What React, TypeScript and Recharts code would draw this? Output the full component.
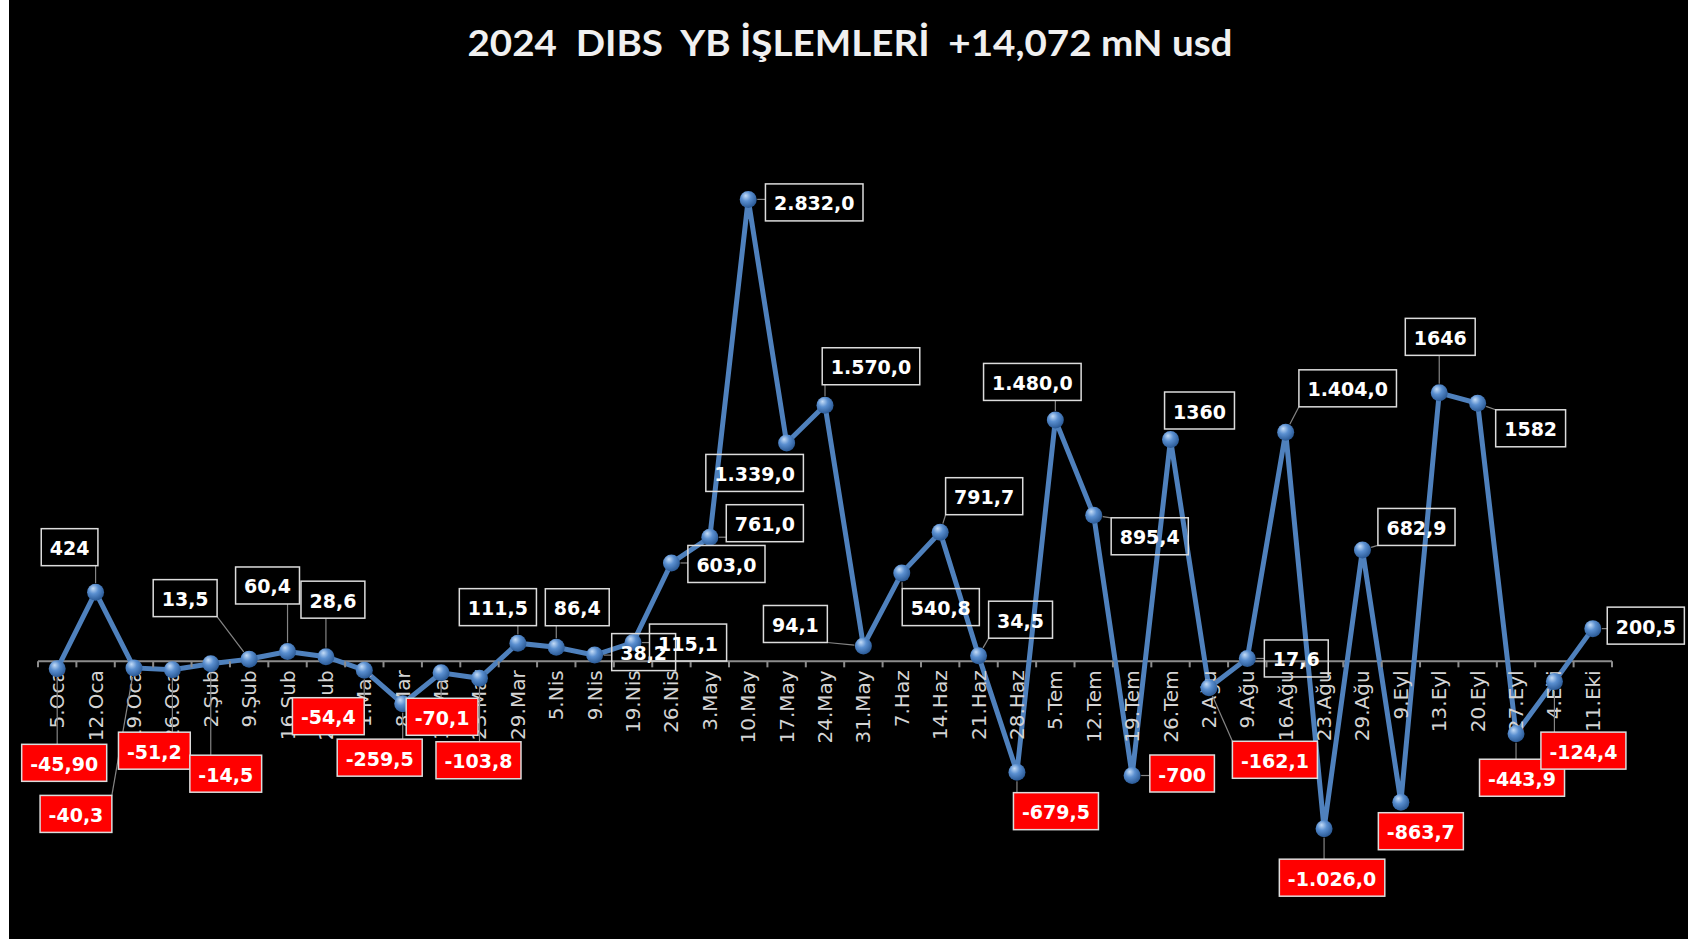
import { LabelList, Line, LineChart, ReferenceDot, ReferenceLine, XAxis, YAxis } from "recharts";

const weeks = [
  "5.Oca", "12.Oca", "19.Oca", "26.Oca", "2.Şub", "9.Şub", "16.Şub", "23.Şub",
  "1.Mar", "8.Mar", "15.Mar", "23.Mar", "29.Mar", "5.Nis", "9.Nis", "19.Nis",
  "26.Nis", "3.May", "10.May", "17.May", "24.May", "31.May", "7.Haz", "14.Haz",
  "21.Haz", "28.Haz", "5.Tem", "12.Tem", "19.Tem", "26.Tem", "2.Ağu", "9.Ağu",
  "16.Ağu", "23.Ağu", "29.Ağu", "9.Eyl", "13.Eyl", "20.Eyl", "27.Eyl", "4.Eki",
  "11.Eki",
];

// weekly foreign flows, mn usd
const flows = [
  -45.9, 424, -40.3, -51.2, -14.5, 13.5, 60.4, 28.6,
  -54.4, -259.5, -70.1, -103.8, 111.5, 86.4, 38.2, 115.1,
  603, 761, 2832, 1339, 1570, 94.1, 540.8, 791.7,
  34.5, -679.5, 1480, 895.4, -700, 1360, -162.1, 17.6,
  1404, -1026, 682.9, -863.7, 1646, 1582, -443.9, -124.4,
  200.5,
];

// label texts as shown on the sheet (mixed formats)
const flowLabels = [
  "-45,90", "424", "-40,3", "-51,2", "-14,5", "13,5", "60,4", "28,6",
  "-54,4", "-259,5", "-70,1", "-103,8", "111,5", "86,4", "38,2", "115,1",
  "603,0", "761,0", "2.832,0", "1.339,0", "1.570,0", "94,1", "540,8", "791,7",
  "34,5", "-679,5", "1.480,0", "895,4", "-700", "1360", "-162,1", "17,6",
  "1.404,0", "-1.026,0", "682,9", "-863,7", "1646", "1582", "-443,9", "-124,4",
  "200,5",
];

// hand-placed label boxes: offset of box centre from its point (px)
const labelOffsets: [number, number][] = [
  [7, 94], [-26, -45], [-58, 146], [-18, 81], [15, 110], [-64, -61], [-20, -66], [7, -57],
  [-36, 46], [-23, 54], [1, 44], [-1, 82], [-20, -36], [21, -40], [49, -3], [55, 0],
  [55, 1], [55, -14], [66, 3], [-32, 30], [46, -39], [-68, -22], [39, 34], [44, -36],
  [42, -36], [39, 39], [-23, -38], [56, 21], [50, -2], [29, -29], [66, 72], [49, 0],
  [62, -44], [8, 49], [54, -23], [20, 29], [1, -56], [53, 25], [6, 44], [29, 69],
  [53, -3],
];

const data = weeks.map((week, i) => ({ week, flow: flows[i] }));

const W = 1679;
const H = 939;
const margin = { top: 172, right: 76, bottom: 33, left: 29 };
const HALF_BAND = (W - margin.left - margin.right) / weeks.length / 2;

const charW: Record<string, number> = { ".": 0.38, ",": 0.38, "-": 0.415 };
function textWidth(s: string, size: number) {
  let w = 0;
  for (const c of s) w += charW[c] ?? 0.696;
  return w * size;
}

function Ball({ cx, cy, index }: any) {
  if (cx == null || cy == null) return null;
  return <circle key={`b${index}`} cx={cx} cy={cy} r={8.5} fill="url(#ball)" />;
}

function WeekTick(props: any) {
  const { cx, cy, label, last } = props;
  return (
    <g>
      <line x1={cx - HALF_BAND} x2={cx - HALF_BAND} y1={cy} y2={cy + 6} stroke="#8c8c8c" strokeWidth={2} />
      {last && <line x1={cx + HALF_BAND} x2={cx + HALF_BAND} y1={cy} y2={cy + 6} stroke="#8c8c8c" strokeWidth={2} />}
      <text
        transform={`translate(${cx},${cy + 9}) rotate(-90)`}
        textAnchor="end"
        dominantBaseline="central"
        fill="#d4d4d4"
        fontSize={20}
        fontFamily="DejaVu Sans"
      >
        {label}
      </text>
    </g>
  );
}

function FlowLabel(props: any) {
  const { x, y, index } = props;
  if (x == null || y == null) return null;
  const text = flowLabels[index];
  const [dx, dy] = labelOffsets[index];
  const neg = flows[index] < 0;
  const w = textWidth(text, 19) + 17;
  const h = 37;
  const bx = x + dx;
  const by = y + dy;
  const left = bx - w / 2;
  const top = by - h / 2;
  const px = Math.max(left, Math.min(x, left + w));
  const py = Math.max(top, Math.min(y, top + h));
  const dist = Math.hypot(px - x, py - y);
  return (
    <g>
      {dist > 12 && (
        <line
          x1={x + ((px - x) / dist) * 9}
          y1={y + ((py - y) / dist) * 9}
          x2={px}
          y2={py}
          stroke="#858585"
          strokeWidth={1.2}
        />
      )}
      <rect x={left} y={top} width={w} height={h} fill={neg ? "#ff0000" : "none"} stroke="#dcdcdc" strokeWidth={1.5} />
      <text
        x={bx}
        y={by + 1}
        textAnchor="middle"
        dominantBaseline="central"
        fill="#fff"
        fontWeight="bold"
        fontSize={19}
        fontFamily="DejaVu Sans"
      >
        {text}
      </text>
    </g>
  );
}

export default function App() {
  return (
    <div style={{ position: "absolute", left: 0, top: 0, width: 1688, height: 939, background: "#fff" }}>
      <div style={{ position: "absolute", left: 9, top: 0, width: W, height: H, background: "#000" }}>
        <LineChart width={W} height={H} data={data} margin={margin}>
          <defs>
            <radialGradient id="ball" cx="40%" cy="35%" r="65%" fx="35%" fy="28%">
              <stop offset="0%" stopColor="#c4dcf7" />
              <stop offset="45%" stopColor="#5a8fd0" />
              <stop offset="100%" stopColor="#2b5a96" />
            </radialGradient>
          </defs>
          <XAxis dataKey="week" hide padding={{ left: HALF_BAND, right: HALF_BAND }} />
          <YAxis hide domain={[-1500, 3000]} />
          <ReferenceLine y={0} stroke="#8c8c8c" strokeWidth={2} />
          {weeks.map((wk, i) => (
            <ReferenceDot
              key={wk}
              x={wk}
              y={0}
              r={0}
              shape={(p: any) => <WeekTick {...p} label={wk} last={i === weeks.length - 1} />}
            />
          ))}
          <Line
            type="linear"
            dataKey="flow"
            stroke="#4f81bd"
            strokeWidth={5}
            dot={Ball}
            activeDot={false}
            isAnimationActive={false}
          >
            <LabelList dataKey="flow" content={FlowLabel} />
          </Line>
        </LineChart>
        <svg width={W} height={90} style={{ position: "absolute", left: 0, top: 0 }}>
          <text
            x={841}
            y={41}
            textAnchor="middle"
            dominantBaseline="central"
            fill="#f0f0f0"
            fontFamily="Lato"
            fontWeight="bold"
            fontSize={37}
            textLength={765}
            lengthAdjust="spacingAndGlyphs"
            style={{ whiteSpace: "pre" }}
          >
            {"2024  DIBS  YB İŞLEMLERİ  +14,072 mN usd"}
          </text>
        </svg>
      </div>
    </div>
  );
}
